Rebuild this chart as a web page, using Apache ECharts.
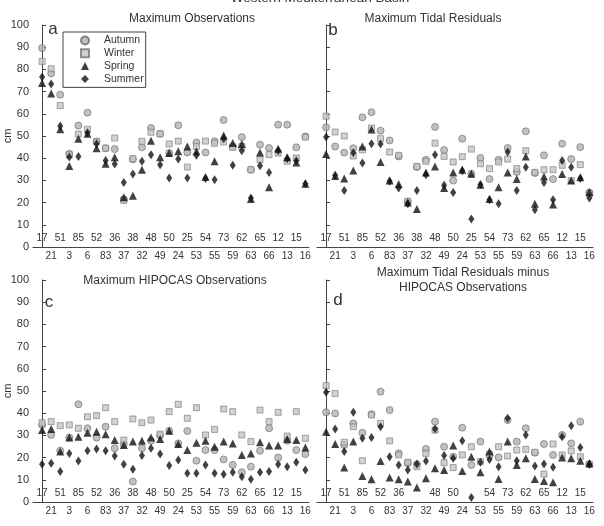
<!DOCTYPE html>
<html>
<head>
<meta charset="utf-8">
<script src="https://cdn.jsdelivr.net/npm/echarts@6/dist/echarts.min.js"></script>
<style>
  html, body { margin: 0; padding: 0; background: #fff; }
  #chart { width: 604px; height: 526px; }
</style>
</head>
<body>
<div id="chart"></div>
<script>
  // station ids along the coast, in plotting order
  const stations = [17, 21, 51, 3, 85, 6, 52, 83, 36, 37, 38, 32, 48, 49, 50, 24, 25, 53, 54, 55, 73, 59, 62, 63, 65, 66, 12, 13, 15, 16];
  const seasons = ["Autumn", "Winter", "Spring", "Summer"];

  // a: maximum observations (cm)
  const obsAutumn = [89.6, 78.2, 68.6, 42, 54.7, 60.5, 47.5, 44.5, 44.1, 21.5, 39.5, 44.9, 53.6, 51, 42.3, 54.8, 42.6, 47.1, 42.6, 47.6, 57.2, 45.3, 49.5, 34.8, 46.1, 44.6, 55.1, 55.1, 44.9, 49.8];
  const obsWinter = [83.6, 80.3, 63.7, 41.5, 50.9, 53, 47.5, 44.5, 49.1, 21, 39.8, 47.6, 51.7, 51, 46.4, 47.7, 36, 45.3, 47.7, 46.7, 47.3, 44.9, 45.3, 34.8, 39.3, 41.6, 42.3, 38.6, 40.1, 49.5];
  const obsSpring = [73.9, 69.2, 53, 36.5, 48.8, 51, 44.5, 37.5, 40.4, 22.4, 23.1, 34.8, 47.9, 40.4, 42.3, 43.1, 45.3, 43.1, 31.5, 38.6, 50.2, 46.8, 46.4, 21.6, 42.6, 26.9, 44.3, 40.4, 38.1, 28.5];
  const obsSummer = [76.6, 73.4, 54.5, 40.5, 40.8, 51.5, 46.5, 39, 37.4, 29.1, 32.9, 38.6, 41.6, 37.1, 31.1, 39.6, 31.1, 41.3, 30.8, 30.3, 48.8, 36.8, 43.4, 22.1, 36.6, 33.6, 43.4, 39.8, 38.9, 28.5];

  // b: maximum tidal residuals
  const resAutumn = [53.9, 45.3, 42.5, 44.5, 58.4, 60.7, 52.4, 48, 40.8, 20.5, 36, 39.3, 54.1, 43.7, 29.9, 48.8, 33, 40.1, 30.6, 39.3, 44.6, 33.8, 52.1, 33.3, 41.3, 30.6, 46.5, 39.6, 45, 24.5];
  const resWinter = [58.9, 51.8, 50, 41, 43.8, 53.6, 48.8, 42.8, 41.3, 20.6, 36.3, 38.6, 46.8, 40.8, 38.3, 40.7, 44.1, 37.5, 35.3, 38.3, 39.6, 35.3, 43.4, 33.6, 34.8, 34.8, 36.8, 29.9, 37.1, 24];
  const resSpring = [41.9, 32, 30.8, 34.5, 45.3, 52.9, 38.3, 29.9, 28.4, 20, 17.1, 33.6, 36.3, 26.6, 33.6, 34.8, 33, 28, 21.6, 26.9, 33.6, 30.6, 40.8, 19.5, 31.8, 19.1, 32.9, 29.9, 31.4, 24.8];
  const resSummer = [49.5, 32.3, 25.4, 42.5, 37.8, 46.5, 46.4, 29.6, 26.6, 19.5, 25.4, 32.6, 41.6, 27.8, 24.6, 34.4, 12.6, 28.1, 21.3, 19.5, 42.8, 25.4, 35.9, 16.8, 29.1, 21.3, 39, 35.9, 30.8, 22.1];

  // c: maximum HIPOCAS observations
  const hipAutumn = [34.7, 30.2, 23.1, 29, 44, 33.2, 29, 33.9, 24.2, 26, 9.2, 24.2, 27.6, 30, 32.1, 26.4, 32, 18.6, 23.4, 23.4, 19.2, 16.7, 13.4, 15.9, 23.1, 33.2, 20, 27.6, 23.4, 21.6];
  const hipWinter = [35.7, 36.2, 34.4, 34.7, 33.2, 38.4, 38.9, 42.5, 36.2, 27.9, 37.4, 35.7, 36.9, 30.6, 40.7, 44, 37.7, 42.5, 30.2, 32.7, 41.9, 40.7, 30.2, 27.2, 41.4, 36.2, 40.4, 29.7, 40.7, 28.7];
  const hipSpring = [32.4, 32.9, 22.7, 29, 29.4, 31.2, 31.7, 30.5, 27.9, 25.7, 27.2, 27.6, 29.1, 28.4, 32.1, 26.1, 23.4, 26.7, 27.6, 24.9, 27.2, 26.4, 21.2, 21.9, 26.9, 25.4, 25.4, 28.4, 27.9, 24.6];
  const hipSummer = [17, 17.4, 13.7, 21.9, 18.5, 23.1, 23.9, 23.1, 20.7, 17, 14.7, 20.9, 24.2, 21.6, 16.4, 18.9, 12.9, 12.9, 16.7, 12.9, 12.5, 13.4, 11.4, 10.2, 13.4, 13.7, 17, 15.9, 17.9, 14.4];

  // d: tidal residuals minus HIPOCAS
  const diffAutumn = [40.4, 39.9, 25.7, 35.4, 31.2, 39.5, 49.7, 41.4, 21.9, 17.5, 17, 23.9, 36.2, 24.9, 20.4, 33.5, 16.7, 27.2, 21, 20.1, 36.9, 27.2, 33.2, 22.2, 26.1, 21.2, 30.2, 26.4, 36.2, 17];
  const diffWinter = [52.4, 48.9, 26.9, 33.9, 18.6, 39.2, 35.4, 27.5, 21.2, 17.9, 15.9, 21.9, 32.4, 17.7, 15.5, 21.2, 24.9, 18.2, 21.5, 24.9, 20.7, 23.4, 23.7, 22.4, 12.6, 26.1, 21.2, 23, 20.4, 17];
  const diffSpring = [31.7, 26.1, 15.5, 27.2, 11.7, 10.2, 18.5, 11, 10.2, 9.2, 6.5, 10.7, 15.2, 14.4, 25.4, 14, 20.4, 13.4, 22.7, 10.4, 27.2, 16.7, 19.7, 10.4, 9.5, 8.9, 20.1, 19.7, 18.6, 17.4];
  const diffSummer = [49.4, 32.9, 22.7, 40.4, 28.7, 29.1, 33.9, 20.4, 16.7, 14.4, 17.1, 18.5, 32.9, 20.9, 19.7, 27.6, 2, 17.9, 19.2, 15.9, 37.7, 18.6, 30.2, 16.2, 17.1, 15.6, 29.4, 34.4, 24.6, 17];

  const FONT = '"Liberation Sans", Arial, sans-serif';
  const AXIS_COLOR = "#444";
  const TEXT_COLOR = "#333";

  const markerStyles = {
    Autumn: { symbol: "circle", symbolSize: 7, itemStyle: { color: "#b2b2b2", borderColor: "#6a6a6a", borderWidth: 0.8 } },
    Winter: { symbol: "rect", symbolSize: 6, itemStyle: { color: "#c6c6c6", borderColor: "#777", borderWidth: 0.8 } },
    Spring: { symbol: "triangle", symbolSize: 8, itemStyle: { color: "#111" } },
    Summer: { symbol: "diamond", symbolSize: [6, 9], itemStyle: { color: "#111" } }
  };

  const panels = [
    { left: 33, top: 25, yLabels: true, hiddenLabels: [], values: [obsAutumn, obsWinter, obsSpring, obsSummer] },
    { left: 317, top: 25, yLabels: false, hiddenLabels: [], values: [resAutumn, resWinter, resSpring, resSummer] },
    { left: 33, top: 280, yLabels: true, hiddenLabels: [], values: [hipAutumn, hipWinter, hipSpring, hipSummer] },
    { left: 317, top: 280, yLabels: false, hiddenLabels: [10, 16], values: [diffAutumn, diffWinter, diffSpring, diffSummer] }
  ];

  function stationLabel(value, row, hidden) {
    if (!Number.isInteger(value) || value < 0 || value >= stations.length) return "";
    if (value % 2 !== row) return "";
    if (hidden.indexOf(value) !== -1) return "";
    return String(stations[value]);
  }

  const grid = [];
  const xAxis = [];
  const yAxis = [];
  const series = [];

  panels.forEach((panel, p) => {
    grid.push({
      left: panel.left, top: panel.top, width: 276, height: 222,
      containLabel: false, outerBoundsMode: "none"
    });

    const baseX = {
      type: "value",
      gridIndex: p,
      position: "bottom",
      min: -1,
      max: 29.4,
      interval: 1,
      splitLine: { show: false },
      axisTick: { show: false }
    };
    // lower row of station labels (odd positions), below the axis
    xAxis.push(Object.assign({}, baseX, {
      axisLine: { show: true, onZero: false, lineStyle: { color: AXIS_COLOR, width: 1 } },
      axisLabel: {
        margin: 4, fontSize: 10, fontFamily: FONT, color: TEXT_COLOR,
        showMinLabel: false, showMaxLabel: false,
        formatter: (v) => stationLabel(v, 1, panel.hiddenLabels)
      }
    }));
    // upper row (even positions), drawn inside the plot
    xAxis.push(Object.assign({}, baseX, {
      axisLine: { show: false, onZero: false },
      axisLabel: {
        inside: true, margin: 4, fontSize: 10, fontFamily: FONT, color: TEXT_COLOR,
        showMinLabel: false, showMaxLabel: false,
        formatter: (v) => stationLabel(v, 0, panel.hiddenLabels)
      }
    }));

    yAxis.push({
      type: "value",
      gridIndex: p,
      min: 0,
      max: 100,
      interval: 10,
      name: panel.yLabels ? "cm" : "",
      nameLocation: "middle",
      nameGap: 20,
      nameMoveOverlap: false,
      nameTextStyle: { fontSize: 11, fontFamily: FONT, color: TEXT_COLOR },
      splitLine: { show: false },
      axisLine: { show: true, lineStyle: { color: AXIS_COLOR, width: 1 } },
      axisTick: { show: true, inside: true, length: 4, lineStyle: { color: AXIS_COLOR } },
      axisLabel: { show: panel.yLabels, margin: 4, fontSize: 11, fontFamily: FONT, color: TEXT_COLOR }
    });

    seasons.forEach((name, s) => {
      const style = markerStyles[name];
      series.push({
        name: name,
        type: "scatter",
        xAxisIndex: p * 2,
        yAxisIndex: p,
        symbol: style.symbol,
        symbolSize: style.symbolSize,
        itemStyle: style.itemStyle,
        data: panel.values[s].map((v, i) => [i, v])
      });
    });
  });

  function text(str, x, y, size, extra) {
    return {
      type: "text",
      x: x,
      y: y,
      style: Object.assign({
        text: str,
        fill: TEXT_COLOR,
        font: size + "px " + FONT,
        textAlign: "center",
        textVerticalAlign: "middle"
      }, extra || {})
    };
  }

  const chart = echarts.init(document.getElementById("chart"));
  chart.setOption({
    animation: false,
    backgroundColor: "#fff",
    grid: grid,
    xAxis: xAxis,
    yAxis: yAxis,
    legend: {
      data: seasons,
      orient: "vertical",
      left: 63,
      top: 32,
      itemWidth: 8,
      itemHeight: 8,
      itemGap: 1.8,
      padding: [3, 2, 3, 17],
      borderColor: AXIS_COLOR,
      borderWidth: 1,
      backgroundColor: "#fff",
      textStyle: { fontSize: 10.5, fontFamily: FONT, color: TEXT_COLOR, lineHeight: 11, padding: [0, 0, 0, 10] }
    },
    graphic: [
      text("Western Mediterranean Basin", 320, -2, 13.5),
      text("Maximum Observations", 192, 19, 12),
      text("Maximum Tidal Residuals", 433, 19, 12),
      text("Maximum HIPOCAS Observations", 175, 281, 12),
      text("Maximum Tidal Residuals minus\nHIPOCAS Observations", 463, 280, 12, { lineHeight: 15 }),
      text("a", 53, 29, 17),
      text("b", 333, 30, 17),
      text("c", 49, 302, 17),
      text("d", 338, 300, 17)
    ],
    series: series
  });
</script>
</body>
</html>
